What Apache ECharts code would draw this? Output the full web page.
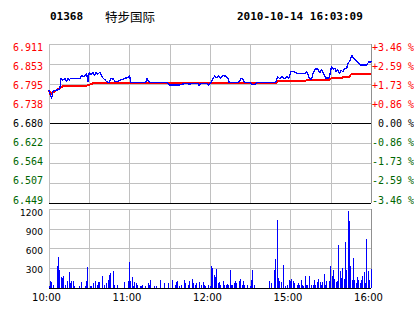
<!DOCTYPE html>
<html><head><meta charset="utf-8">
<script src="https://cdn.jsdelivr.net/npm/echarts@6/dist/echarts.min.js"></script>
<style>html,body{margin:0;padding:0;background:#fff}#c{width:414px;height:314px}#c svg path{shape-rendering:crispEdges}</style>
</head><body><div id="c"></div>
<script>
// ---- header text ----
const stockCode = '01368';
const stockName = '特步国际';
const stamp = '2010-10-14 16:03:09';

// ---- price axis ----
const prevClose = 6.680;
const priceLow = 6.449;
const priceHigh = 6.911;
const priceTicks = ['6.449','6.507','6.564','6.622','6.680','6.738','6.795','6.853','6.911'];
const pctTicks = ['-3.46 %','-2.59 %','-1.73 %','-0.86 %',' 0.00 %','+0.86 %','+1.73 %','+2.59 %','+3.46 %'];

// ---- volume axis ----
const volMax = 1200;
const volStep = 300;

// ---- time axis (trading minutes from 10:00) ----
const timeTickMin = [0, 60, 120, 180, 240];
const timeTickLabel = ['10:00', '11:00', '12:00', '15:00', '16:00'];

// ---- price line (minute, price) ----
const priceMin = [0,2,3,7,8,9,10,12,13,14,15,16,23,24,26,28,29,30,31,33,34,35,36,38,39,40,42,43,45,46,48,49,51,53,55,58,59,60,61,72,73,74,75,88,90,97,99,102,105,107,111,112,113,118,119,120,121,123.5,124.7,126.4,128,129.8,131.5,133.3,134.3,141.3,143.3,144.5,145.8,150,151,152,153.5,155.2,168.9,170.4,172.1,173.8,175.5,177.2,178.9,180.3,182.5,184.5,190.7,192,194.5,195.7,196.9,198.2,200.7,201.9,203,205.1,206.1,208.6,209.4,210.6,211.8,213,214,215,216.5,217.7,219,220,222,222.4,224.4,225.6,226.9,228.9,230.6,232.4,236.6,238.8,239.6,240];
const priceVal = [6.777,6.753,6.775,6.778,6.780,6.811,6.806,6.811,6.801,6.811,6.806,6.811,6.811,6.819,6.816,6.826,6.801,6.829,6.821,6.829,6.819,6.829,6.823,6.829,6.819,6.813,6.806,6.801,6.799,6.811,6.809,6.803,6.801,6.806,6.809,6.813,6.813,6.821,6.799,6.799,6.811,6.803,6.799,6.799,6.792,6.792,6.794,6.797,6.794,6.797,6.797,6.790,6.797,6.797,6.790,6.797,6.800,6.819,6.812,6.819,6.812,6.819,6.818,6.812,6.799,6.799,6.812,6.808,6.799,6.799,6.795,6.792,6.794,6.800,6.799,6.816,6.810,6.816,6.810,6.816,6.812,6.832,6.832,6.826,6.826,6.830,6.809,6.809,6.826,6.838,6.838,6.826,6.838,6.821,6.812,6.812,6.823,6.845,6.838,6.841,6.830,6.838,6.826,6.835,6.830,6.838,6.840,6.850,6.864,6.879,6.871,6.864,6.855,6.850,6.850,6.861,6.855,6.861];

// ---- average price line (minute, price) ----
const avgMin = [0,1,9,12,28,30,33,40,170,171,191,192,209,210,218,219,224,225,240];
const avgVal = [6.778,6.765,6.786,6.790,6.790,6.792,6.797,6.799,6.799,6.804,6.804,6.806,6.806,6.811,6.811,6.816,6.816,6.823,6.823];

// ---- volume (minute, volume) ----
const volMin = [0,1,2,3,6,7,8,9,10,11,12,14,15,16,17,18,19,23,24,27,28,29,31,32,33,35,36,37,38,40,41,43,44,45,46,48,49,51,56,59,60,61,62,63,64,65,66,68,69,70,72,74,75,76,79,80,83,86,89,92,94,95,96,97,99,101,102,104,105,107,108,109,110,112,114,115,116,117,119,120,121,122,123,124,125,126,127,128,130,131,132,133,134,135,136,137,138,139,140,142,143,144,145,146,148,150,151,152,153,164,166,168,169,170,171,172,173,175,176,178,179,180,181,182,183,185,186,187,188,189,190,191,192,193,194,196,197,198,199,200,201,202,203,204,205,206,207,209,210,211,212,213,214,215,216,217,218,219,220,221,222,223,224,225,226,227,228,229,230,231,232,233,234,235,236,237,238,239,240];
const volVal = [35,100,86,50,330,465,280,167,152,177,50,100,238,75,100,100,35,35,86,35,100,314,35,35,75,100,50,86,86,187,50,75,126,202,228,253,50,50,86,100,390,100,167,35,86,75,50,35,35,50,35,75,50,126,35,35,126,75,75,126,50,86,100,35,50,126,75,50,100,136,75,50,75,86,50,86,50,35,50,35,340,304,202,167,293,75,86,50,100,50,50,65,50,278,50,50,75,100,75,100,137,50,100,50,50,35,126,278,50,100,75,278,440,1037,152,100,86,354,35,50,116,100,136,111,75,50,75,50,126,50,35,187,50,50,187,50,50,126,50,86,136,86,50,86,218,50,100,100,340,177,278,136,86,100,658,253,152,304,136,693,268,1174,1012,340,126,455,116,75,167,126,75,126,177,238,75,744,253,126,288];

const RED = '#ff0000', GREEN = '#006600', GRID = '#c0c0c0', BLUE = '#0000ff';
const mono = 'DejaVu Sans Mono';

const chart = echarts.init(document.getElementById('c'), null, {renderer: 'svg'});
const pctColor = v => { v = Number(v); return v > 0 ? RED : (v < 0 ? GREEN : '#000'); };
const timeFmt = v => { const i = timeTickMin.indexOf(Number(v)); return i >= 0 ? timeTickLabel[i] : ''; };
const hiddenX = (g) => ({gridIndex: g, type: 'value', min: 0, max: 240, show: false});

chart.setOption({
  animation: false,
  backgroundColor: '#fff',
  graphic: [
    {type: 'text', x: 50, y: 16, style: {text: stockCode, font: 'bold 11px "DejaVu Sans Mono"', fill: '#000', verticalAlign: 'middle'}},
    {type: 'text', x: 105, y: 16, style: {text: stockName, font: '12.5px "Noto Sans CJK SC"', fill: '#000', verticalAlign: 'middle'}},
    {type: 'text', x: 237, y: 16, style: {text: stamp, font: 'bold 11px "DejaVu Sans Mono"', fill: '#000', verticalAlign: 'middle'}}
  ],
  grid: [
    {left: 49, right: 43, top: 44, bottom: 111, containLabel: false, outerBoundsMode: 'none'},
    {left: 49, right: 43, top: 209, bottom: 26, containLabel: false, outerBoundsMode: 'none'},
    // label-only grids (labels sit on a slightly compressed scale, as in the original)
    {left: 49, right: 43, top: 47, bottom: 114, containLabel: false, outerBoundsMode: 'none', show: false},
    {left: 49, right: 43, top: 213, bottom: 25, containLabel: false, outerBoundsMode: 'none', show: false}
  ],
  xAxis: [
    {gridIndex: 0, type: 'value', min: 0, max: 240, interval: 30,
     axisLine: {show: false}, axisTick: {show: false}, axisLabel: {show: false},
     splitLine: {show: true, lineStyle: {color: [GRID,GRID,GRID,GRID,GRID,GRID,GRID,GRID,'#909090'], width: 1}}},
    {gridIndex: 1, type: 'value', min: 0, max: 240, interval: 30,
     axisLine: {show: false}, axisTick: {show: false},
     axisLabel: {show: true, formatter: timeFmt, fontFamily: 'DejaVu Sans', fontSize: 10, color: '#000', margin: 4, padding: [0,5,0,0], showMinLabel: true, showMaxLabel: true},
     splitLine: {show: true, lineStyle: {color: [GRID,GRID,GRID,GRID,GRID,GRID,GRID,GRID,'#909090'], width: 1}}},
    hiddenX(2),
    hiddenX(3)
  ],
  yAxis: [
    // 0: price grid lines
    {gridIndex: 0, type: 'value', min: -4, max: 4, interval: 1,
     axisLine: {show: false}, axisTick: {show: false}, axisLabel: {show: false},
     splitLine: {show: true, lineStyle: {color: ['#000',GRID,GRID,GRID,'#000',GRID,GRID,GRID,GRID], width: 1}}},
    // 1: hidden price scale for the data
    {gridIndex: 0, type: 'value', min: priceLow, max: priceHigh, show: false, splitLine: {show: false}},
    // 2: volume grid lines + data
    {gridIndex: 1, type: 'value', min: 0, max: volMax, interval: volStep,
     axisLine: {show: false}, axisTick: {show: false}, axisLabel: {show: false},
     splitLine: {show: true, lineStyle: {color: ['#000',GRID,GRID,GRID,GRID], width: 1}}},
    // 3: left price labels
    {gridIndex: 2, type: 'value', position: 'left', min: -4, max: 4, interval: 1,
     axisLine: {show: false}, axisTick: {show: false}, splitLine: {show: false},
     axisLabel: {show: true, formatter: v => priceTicks[Math.round(v) + 4], color: pctColor, fontFamily: mono, fontSize: 10, margin: 6, showMinLabel: true, showMaxLabel: true}},
    // 4: right percent labels
    {gridIndex: 2, type: 'value', position: 'right', min: -4, max: 4, interval: 1,
     axisLine: {show: false}, axisTick: {show: false}, splitLine: {show: false},
     axisLabel: {show: true, formatter: v => pctTicks[Math.round(v) + 4], color: pctColor, fontFamily: mono, fontSize: 10, margin: 1, showMinLabel: true, showMaxLabel: true}},
    // 5: volume labels
    {gridIndex: 3, type: 'value', position: 'left', min: 0, max: volMax, interval: volStep,
     axisLine: {show: false}, axisTick: {show: false}, splitLine: {show: false},
     axisLabel: {show: true, formatter: v => String(v), fontFamily: 'DejaVu Sans', fontSize: 9, color: '#000', margin: 6, showMinLabel: false, showMaxLabel: true}}
  ],
  series: [
    {type: 'line', xAxisIndex: 0, yAxisIndex: 1, data: avgMin.map((m, i) => [m, avgVal[i]]),
     showSymbol: false, lineStyle: {color: RED, width: 2}, z: 3},
    {type: 'line', xAxisIndex: 0, yAxisIndex: 1, data: priceMin.map((m, i) => [m, priceVal[i]]),
     showSymbol: false, lineStyle: {color: BLUE, width: 1.3}, z: 4},
    {type: 'bar', xAxisIndex: 1, yAxisIndex: 2, data: volMin.map((m, i) => [m, volVal[i]]),
     barWidth: 1, itemStyle: {color: BLUE}}
  ]
});
</script>
</body></html>
